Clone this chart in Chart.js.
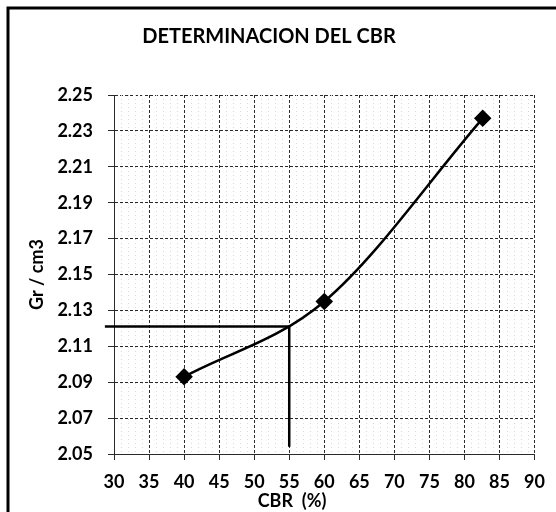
<!DOCTYPE html>
<html>
<head>
<meta charset="utf-8">
<script src="https://cdn.jsdelivr.net/npm/chart.js@4/dist/chart.umd.min.js"></script>
<style>
	html, body { margin: 0; padding: 0; background: #fff; }
	#wrap { width: 556px; height: 512px; }
</style>
</head>
<body>
<div id="wrap"><canvas id="cbrChart" width="556" height="512"></canvas></div>
<script>
// ensayo CBR: densidad seca vs CBR
var cbrValues = [40, 60, 82.6];
var densityValues = [2.093, 2.135, 2.237];

// lectura del CBR de diseno
var designCbr = 55;
var designDensity = 2.121;
var guideLeft = 28.7;
var guideBottom = 2.054;

var xTicks = [30, 35, 40, 45, 50, 55, 60, 65, 70, 75, 80, 85, 90];
var yTicks = [2.05, 2.07, 2.09, 2.11, 2.13, 2.15, 2.17, 2.19, 2.21, 2.23, 2.25];

var fontFamily = "Lato, 'Open Sans', sans-serif";

var curvePoints = [];
for (var i = 0; i < cbrValues.length; i++) {
	curvePoints.push({x: cbrValues[i], y: densityValues[i]});
}

var frameAndLabels = {
	id: 'frameAndLabels',
	beforeDraw: function(chart) {
		var ctx = chart.ctx;
		ctx.save();
		ctx.fillStyle = '#fff';
		ctx.fillRect(0, 0, chart.width, chart.height);
		// marco del grafico
		ctx.strokeStyle = '#000';
		ctx.lineWidth = 3;
		ctx.beginPath();
		ctx.moveTo(8, chart.height);
		ctx.lineTo(8, 8);
		ctx.lineTo(chart.width, 8);
		ctx.stroke();
		ctx.restore();
	},
	beforeDatasetsDraw: function(chart) {
		// lineas secundarias punteadas
		var ctx = chart.ctx;
		var xs = chart.scales.x;
		ctx.save();
		ctx.strokeStyle = '#d9d9d9';
		ctx.lineWidth = 1;
		ctx.setLineDash([1, 3]);
		for (var v = xTicks[0] + 1; v < xTicks[xTicks.length - 1]; v++) {
			if (v % 5 == 0) continue;
			var px = Math.round(xs.getPixelForValue(v)) + 0.5;
			ctx.beginPath();
			ctx.moveTo(px, chart.chartArea.top);
			ctx.lineTo(px, chart.chartArea.bottom);
			ctx.stroke();
		}
		ctx.restore();
	},
	afterDraw: function(chart) {
		var ctx = chart.ctx;
		ctx.save();
		ctx.fillStyle = '#000';
		ctx.font = 'bold 18px ' + fontFamily;
		ctx.textAlign = 'center';
		ctx.textBaseline = 'middle';
		ctx.fillText('CBR  (%)', 292, 501);
		ctx.restore();
	}
};

var config = {
	type: 'line',
	data: {
		datasets: [
			{
				label: 'Densidad',
				data: curvePoints,
				borderColor: '#000',
				backgroundColor: '#000',
				borderWidth: 2.5,
				cubicInterpolationMode: 'monotone',
				pointStyle: 'rectRot',
				pointRadius: 7,
				pointHoverRadius: 7
			},
			{
				label: 'Horizontal',
				data: [{x: guideLeft, y: designDensity}, {x: designCbr, y: designDensity}],
				borderColor: '#000',
				borderWidth: 2.5,
				pointRadius: 0,
				clip: false
			},
			{
				label: 'Vertical',
				data: [{x: designCbr, y: designDensity}, {x: designCbr, y: guideBottom}],
				borderColor: '#000',
				borderWidth: 2.5,
				pointRadius: 0,
				clip: false
			}
		]
	},
	options: {
		responsive: false,
		animation: false,
		plugins: {
			legend: { display: false },
			tooltip: { enabled: false },
			title: {
				display: true,
				text: 'DETERMINACION DEL CBR',
				color: '#000',
				font: { family: fontFamily, size: 20, weight: 'bold' },
				padding: { top: 25, bottom: 46 }
			}
		},
		layout: { padding: { right: 18 } },
		scales: {
			x: {
				type: 'linear',
				min: 30,
				max: 90,
				afterBuildTicks: function(scale) {
					scale.ticks = xTicks.map(function(v) { return {value: v}; });
				},
				afterFit: function(scale) { scale.height = 58; },
				ticks: {
					color: '#000',
					padding: 11,
					font: { family: fontFamily, size: 18, weight: 'bold' }
				},
				grid: { color: '#2a2a2a', lineWidth: 1, tickLength: 6 },
				border: { color: '#2a2a2a', dash: [3, 2] }
			},
			y: {
				type: 'linear',
				min: 2.05,
				max: 2.25,
				afterBuildTicks: function(scale) {
					scale.ticks = yTicks.map(function(v) { return {value: v}; });
				},
				afterFit: function(scale) { scale.width = 114; },
				ticks: {
					color: '#000',
					padding: 15,
					font: { family: fontFamily, size: 18, weight: 'bold' },
					callback: function(value) { return value.toFixed(2); }
				},
				grid: { color: '#2a2a2a', lineWidth: 1, tickLength: 6 },
				border: { color: '#2a2a2a', dash: [3, 2] },
				title: {
					display: true,
					text: 'Gr / cm3',
					color: '#000',
					font: { family: fontFamily, size: 18, weight: 'bold' },
					padding: { top: 26, bottom: 0 }
				}
			}
		}
	},
	plugins: [frameAndLabels]
};

// dash de la grilla principal
config.options.scales.x.grid.borderDash = [3, 2];
config.options.scales.y.grid.borderDash = [3, 2];

var cbrChart = new Chart(
	document.getElementById('cbrChart'),
	config
);
</script>
</body>
</html>
